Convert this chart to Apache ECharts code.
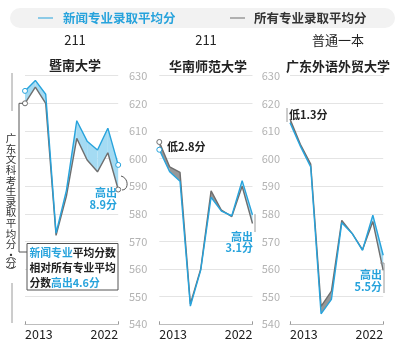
<!DOCTYPE html>
<html>
<head>
<meta charset="utf-8">
<script src="https://cdn.jsdelivr.net/npm/echarts@6/dist/echarts.min.js"></script>
<style>
  html, body { margin: 0; padding: 0; background: #fff; }
  #main { width: 400px; height: 351px; }
</style>
</head>
<body>
<div id="main"></div>
<script>
// 年份
const years = ['2013', '2014', '2015', '2016', '2017', '2018', '2019', '2020', '2021', '2022'];

// 暨南大学
const jinanNews = [624.5, 628.3, 623.3, 573, 588.5, 613.7, 606.3, 603.1, 611, 597.7];
const jinanAll = [620, 625.9, 620, 572.2, 586.4, 607.3, 599.5, 595.2, 602.1, 588.8];

// 华南师范大学
const huananNews = [603.2, 595.2, 591.8, 546.6, 559.6, 586, 581, 579.3, 592, 579.6];
const huananAll = [606, 597, 595, 547.4, 560, 588.3, 581.3, 579, 590, 576.5];

// 广东外语外贸大学
const gwNews = [613, 604.5, 597, 543.8, 549, 576.8, 572.9, 566.8, 579.5, 565];
const gwAll = [614.3, 605.2, 598, 546.5, 552, 577.6, 572.9, 567, 577.2, 559.5];

const yTicks = [540, 550, 560, 570, 580, 590, 600, 610, 620, 630];

const BLUE = '#27a3dc';
const GRAY = '#6e6e6e';
const FILL_BLUE = '#a4dbf3';
const FILL_GRAY = '#979797';
const FONT = '"Noto Sans CJK SC", "Noto Sans", sans-serif';

const panels = [
  { news: jinanNews, all: jinanAll, left: 25, dots: [0, 9], showY: false },
  { news: huananNews, all: huananAll, left: 159.3, dots: [0], showY: true, margin: 12 },
  { news: gwNews, all: gwAll, left: 290, dots: [], showY: true, margin: 10 }
];

const grids = [];
const xAxes = [];
const yAxes = [];
const series = [];

panels.forEach((p, k) => {
  grids.push({ left: p.left, width: 93.2, top: 75.7, height: 248.6 });
  xAxes.push({
    gridIndex: k,
    type: 'category',
    boundaryGap: false,
    data: years,
    axisLine: { lineStyle: { color: '#bdbdbd', width: 1 } },
    axisTick: { inside: true, length: 3, lineStyle: { color: '#999' } },
    axisLabel: {
      interval: (i) => i === 0 || i === years.length - 1,
      alignMinLabel: 'left',
      alignMaxLabel: 'right',
      margin: 4,
      color: '#222',
      fontSize: 12.5,
      fontFamily: FONT
    }
  });
  yAxes.push({
    gridIndex: k,
    type: 'value',
    min: yTicks[0],
    max: yTicks[yTicks.length - 1],
    interval: 10,
    axisLine: { show: false },
    axisTick: { show: false },
    splitLine: { lineStyle: { color: '#e4e4e4', width: 1 } },
    axisLabel: {
      show: p.showY,
      margin: p.margin || 10,
      color: '#b3b3b3',
      fontSize: 11,
      fontFamily: FONT
    }
  });

  // 两条线之间的填充
  const segs = [];
  for (let i = 0; i < years.length - 1; i++) {
    segs.push([i, p.news[i], p.all[i], p.news[i + 1], p.all[i + 1]]);
  }
  series.push({
    type: 'custom',
    xAxisIndex: k,
    yAxisIndex: k,
    silent: true,
    z: 1,
    data: segs,
    encode: { x: 0, y: [1, 2, 3, 4] },
    renderItem: function (params, api) {
      const i = api.value(0);
      const n0 = api.value(1), a0 = api.value(2), n1 = api.value(3), a1 = api.value(4);
      const p1 = api.coord([i, n0]), p2 = api.coord([i + 1, n1]);
      const q1 = api.coord([i, a0]), q2 = api.coord([i + 1, a1]);
      const d0 = n0 - a0, d1 = n1 - a1;
      const col = (d) => (d >= 0 ? FILL_BLUE : FILL_GRAY);
      if (d0 * d1 >= 0) {
        return {
          type: 'polygon',
          shape: { points: [p1, p2, q2, q1] },
          style: { fill: col(d0 + d1) }
        };
      }
      const t = d0 / (d0 - d1);
      const c = [p1[0] + t * (p2[0] - p1[0]), p1[1] + t * (p2[1] - p1[1])];
      return {
        type: 'group',
        children: [
          { type: 'polygon', shape: { points: [p1, c, q1] }, style: { fill: col(d0) } },
          { type: 'polygon', shape: { points: [c, p2, q2] }, style: { fill: col(d1) } }
        ]
      };
    }
  });

  const dotSize = (v, prm) => (p.dots.indexOf(prm.dataIndex) >= 0 ? 5 : 0);
  series.push({
    name: '所有专业录取平均分',
    type: 'line',
    xAxisIndex: k,
    yAxisIndex: k,
    data: p.all,
    z: 2,
    symbol: 'circle',
    symbolSize: dotSize,
    itemStyle: { color: '#fff', borderColor: GRAY, borderWidth: 1 },
    lineStyle: { color: GRAY, width: 1.4 },
    animation: false
  });
  series.push({
    name: '新闻专业录取平均分',
    type: 'line',
    xAxisIndex: k,
    yAxisIndex: k,
    data: p.news,
    z: 3,
    symbol: 'circle',
    symbolSize: dotSize,
    itemStyle: { color: '#fff', borderColor: BLUE, borderWidth: 1 },
    lineStyle: { color: BLUE, width: 1.4 },
    animation: false
  });
});

function txt(x, y, text, opt) {
  return {
    type: 'text',
    x: x,
    y: y,
    z: 10,
    style: Object.assign({
      text: text,
      fontFamily: FONT,
      fontSize: 11,
      fill: '#222',
      align: 'center',
      verticalAlign: 'middle'
    }, opt || {})
  };
}
function line(x1, y1, x2, y2, color) {
  return {
    type: 'line',
    z: 9,
    shape: { x1: x1, y1: y1, x2: x2, y2: y2 },
    style: { stroke: color || '#9a9a9a', lineWidth: 1 }
  };
}

const graphics = [
  // 图例
  { type: 'rect', shape: { x: 10, y: 8, width: 385, height: 20, r: 10 }, style: { fill: '#f2f2f2' } },
  line(38, 18, 53, 18, BLUE),
  txt(63, 18, '新闻专业录取平均分', { align: 'left', fill: BLUE, fontSize: 12.5, fontWeight: 'bold' }),
  line(230, 18, 245, 18, GRAY),
  txt(254, 18, '所有专业录取平均分', { align: 'left', fill: '#333', fontSize: 12.5, fontWeight: 'bold' }),

  // 标题
  txt(75, 40, '211', { fontSize: 13, fill: '#222' }),
  txt(75, 65, '暨南大学', { fontSize: 13, fontWeight: 'bold' }),
  txt(206, 40, '211', { fontSize: 13, fill: '#222' }),
  txt(208, 66, '华南师范大学', { fontSize: 13, fontWeight: 'bold' }),
  txt(338, 40, '普通一本', { fontSize: 13, fill: '#222' }),
  txt(338, 66, '广东外语外贸大学', { fontSize: 13, fontWeight: 'bold' }),

  // 纵轴标题
  line(12, 73, 12, 111),
  txt(11, 133, '广\n东\n文\n科\n考\n生\n录\n取\n平\n均\n分\n·', {
    verticalAlign: 'top', fontSize: 10.5, lineHeight: 10.6, fill: '#333'
  }),
  txt(11, 255, '︵', { fontSize: 10.5, fill: '#333' }),
  txt(11, 263, '分', { fontSize: 10.5, fill: '#333' }),
  txt(11, 271, '︶', { fontSize: 10.5, fill: '#333' }),
  line(12, 283, 12, 323),

  // 暨南大学 说明框
  {
    type: 'polyline', z: 9,
    shape: { points: [[23, 103.3], [19, 103.3], [19, 252], [27, 252]] },
    style: { stroke: '#555', lineWidth: 1, fill: null }
  },
  { type: 'rect', z: 9, shape: { x: 27, y: 243.5, width: 91, height: 46.5 }, style: { fill: '#fff', stroke: '#555', lineWidth: 1 } },
  {
    type: 'text', x: 29.5, y: 245, z: 10,
    style: {
      text: '{b|新闻专业}{d|平均分数}\n{d|相对所有专业平均}\n{d|分数}{b|高出4.6分}',
      fontFamily: FONT, fontSize: 10.8, fontWeight: 'bold', lineHeight: 15,
      align: 'left', verticalAlign: 'top',
      rich: {
        b: { fill: BLUE, fontFamily: FONT, fontSize: 10.8, fontWeight: 'bold', lineHeight: 15 },
        d: { fill: '#222', fontFamily: FONT, fontSize: 10.8, fontWeight: 'bold', lineHeight: 15 }
      }
    }
  },
  {
    type: 'bezierCurve', z: 9,
    shape: { x1: 121, y1: 176, cpx1: 129, cpy1: 178, cpx2: 129, cpy2: 190, x2: 122, y2: 190 },
    style: { stroke: '#555', lineWidth: 1, fill: null }
  },
  txt(117, 193, '高出', { align: 'right', fill: BLUE, fontWeight: 'bold' }),
  txt(117, 204.5, '8.9分', { align: 'right', fill: BLUE, fontWeight: 'bold' }),

  // 华南师范大学
  txt(167, 146.5, '低2.8分', { align: 'left', fontWeight: 'bold' }),
  line(255, 214, 255, 232),
  txt(253, 236.5, '高出', { align: 'right', fill: BLUE, fontWeight: 'bold' }),
  txt(253, 247.5, '3.1分', { align: 'right', fill: BLUE, fontWeight: 'bold' }),

  // 广东外语外贸大学
  line(287, 108, 287, 122),
  txt(289, 115, '低1.3分', { align: 'left', fontWeight: 'bold' }),
  {
    type: 'polyline', z: 9,
    shape: { points: [[380, 263], [384, 263], [384, 293]] },
    style: { stroke: '#9a9a9a', lineWidth: 1, fill: null }
  },
  txt(382, 275, '高出', { align: 'right', fill: BLUE, fontWeight: 'bold' }),
  txt(382, 287, '5.5分', { align: 'right', fill: BLUE, fontWeight: 'bold' })
];

const chart = echarts.init(document.getElementById('main'));
chart.setOption({
  animation: false,
  grid: grids,
  xAxis: xAxes,
  yAxis: yAxes,
  series: series,
  graphic: graphics
});
</script>
</body>
</html>
